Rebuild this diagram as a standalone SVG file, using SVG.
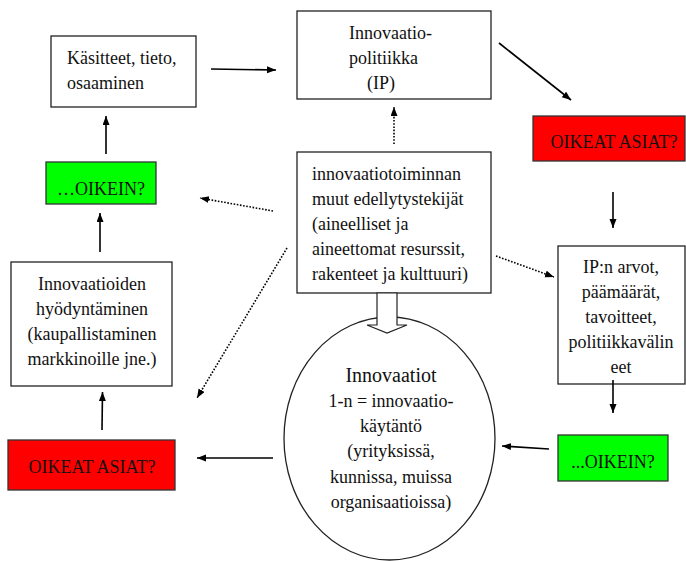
<svg xmlns="http://www.w3.org/2000/svg" width="686" height="561" viewBox="0 0 686 561" font-family="Liberation Serif, Tinos, DejaVu Serif, serif">
<defs>
<style>
.box{fill:#fff;stroke:#222;stroke-width:1.3}
.red{fill:#ff0000;stroke:#333;stroke-width:1.3}
.green{fill:#00ff00;stroke:#333;stroke-width:1.3}
text{font-size:18px;fill:#111}
.c{text-anchor:middle}
.solid{stroke:#000;stroke-width:1.6;fill:none;marker-end:url(#ah)}
.dot{stroke:#000;stroke-width:1.6;fill:none;stroke-dasharray:1.6 1.6;marker-end:url(#ah)}
</style>
<marker id="ah" markerUnits="userSpaceOnUse" markerWidth="10" markerHeight="8" refX="9" refY="3.5" orient="auto">
<path d="M0,0 L9,3.5 L0,7 z" fill="#000"/>
</marker>
</defs>
<rect width="686" height="561" fill="#fff"/>

<g id="kasitteet">
<rect class="box" x="51" y="36" width="145" height="71"/>
<text x="67" y="64">Käsitteet, tieto,</text>
<text x="67" y="89">osaaminen</text>
</g>

<g id="innovaatiopolitiikka">
<rect class="box" x="297" y="11" width="194" height="88"/>
<text x="349" y="39">Innovaatio-</text>
<text x="349" y="64">politiikka</text>
<text x="367" y="89">(IP)</text>
</g>

<g id="oikeat-top">
<rect class="red" x="533" y="116" width="152" height="45"/>
<text class="c" x="614" y="148">OIKEAT ASIAT?</text>
</g>

<g id="edellytykset">
<rect class="box" x="297" y="152" width="194" height="141"/>
<text x="312" y="180">innovaatiotoiminnan</text>
<text x="312" y="205">muut edellytystekijät</text>
<text x="312" y="230">(aineelliset ja</text>
<text x="312" y="255">aineettomat resurssit,</text>
<text x="312" y="280">rakenteet ja kulttuuri)</text>
</g>

<g id="ip-arvot">
<rect class="box" x="558" y="246" width="127" height="138"/>
<text class="c" x="621" y="273">IP:n arvot,</text>
<text class="c" x="621" y="298">päämäärät,</text>
<text class="c" x="621" y="323">tavoitteet,</text>
<text class="c" x="621" y="348">politiikkavälin</text>
<text class="c" x="621" y="373">eet</text>
</g>

<g id="oikein-right">
<rect class="green" x="558" y="435" width="110" height="46"/>
<text class="c" x="613" y="468">...OIKEIN?</text>
</g>

<g id="innovaatiot">
<ellipse class="box" cx="389.5" cy="438.5" rx="105.5" ry="121.5"/>
<text class="c" x="391" y="382" style="font-size:20px">Innovaatiot</text>
<text class="c" x="391" y="407">1-n = innovaatio-</text>
<text class="c" x="391" y="432">käytäntö</text>
<text class="c" x="391" y="457">(yrityksissä,</text>
<text class="c" x="391" y="482.5">kunnissa, muissa</text>
<text class="c" x="391" y="507.5">organisaatioissa)</text>
</g>

<g id="oikeat-bottom">
<rect class="red" x="8" y="440" width="167" height="50"/>
<text class="c" x="92" y="473">OIKEAT ASIAT?</text>
</g>

<g id="hyodyntaminen">
<rect class="box" x="11" y="262" width="161" height="124"/>
<text class="c" x="92" y="290">Innovaatioiden</text>
<text class="c" x="92" y="315">hyödyntäminen</text>
<text class="c" x="92" y="340">(kaupallistaminen</text>
<text class="c" x="92" y="365">markkinoille jne.)</text>
</g>

<g id="oikein-left">
<rect class="green" x="46" y="162" width="110" height="42"/>
<text class="c" x="101" y="195">…OIKEIN?</text>
</g>

<g id="connectors">
<path class="solid" d="M211,69 L276,70"/>
<path class="solid" d="M499,43 L571,100"/>
<path class="solid" d="M613,192 L613,228"/>
<path class="solid" d="M613,380 L613,413"/>
<path class="solid" d="M549,449 L502,446"/>
<path class="solid" d="M273,458 L197,458"/>
<path class="solid" d="M102,430 L102.5,392"/>
<path class="solid" d="M100,252 L100,213"/>
<path class="solid" d="M106,154 L106,116"/>
<path class="dot" d="M394,144 L394,107"/>
<path class="dot" d="M273,211 L200,198"/>
<path class="dot" d="M287,248 L197,398"/>
<path class="dot" d="M496,256 L554,277"/>
<polygon points="377,293 397,293 397,325 407,325 387,333 367,325 377,325" fill="#fff" stroke="#222" stroke-width="1.2"/>
</g>
</svg>
